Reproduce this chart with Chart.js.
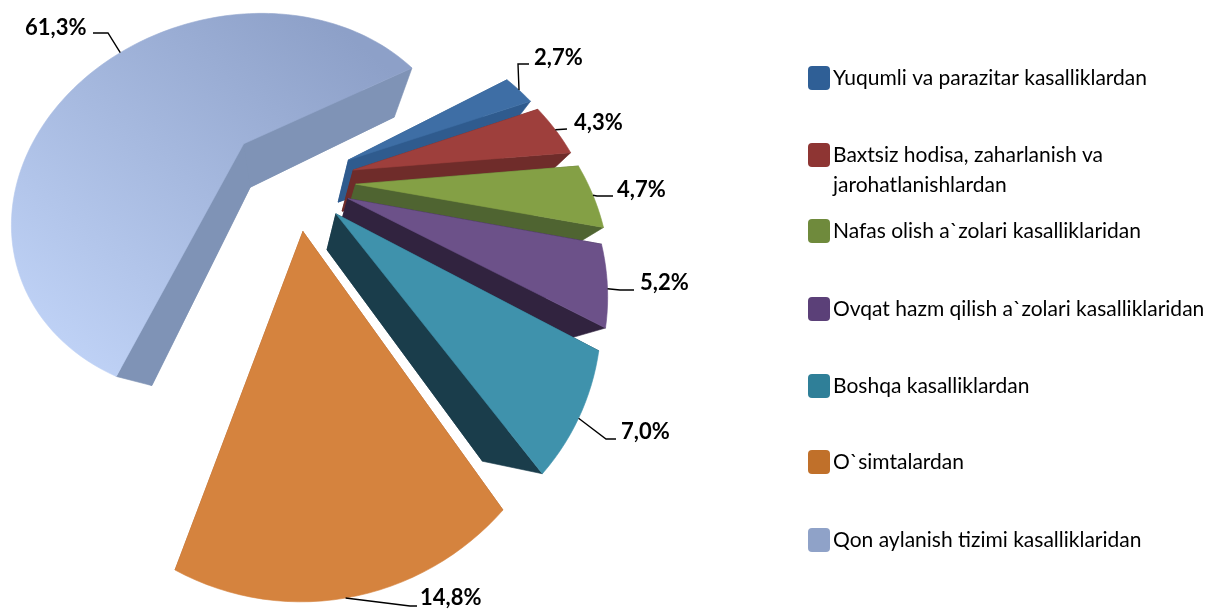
<!DOCTYPE html>
<html>
<head>
<meta charset="utf-8">
<script src="https://cdn.jsdelivr.net/npm/chart.js@4"></script>
<style>
html, body { margin: 0; padding: 0; background: #fff; }
canvas { display: block; }
</style>
</head>
<body>
<canvas id="pieChart" width="1217" height="610"></canvas>
<script>
const categories = [
    'Yuqumli va parazitar kasalliklardan',
    ['Baxtsiz hodisa, zaharlanish va', 'jarohatlanishlardan'],
    'Nafas olish a`zolari kasalliklaridan',
    'Ovqat hazm qilish a`zolari kasalliklaridan',
    'Boshqa kasalliklardan',
    'O`simtalardan',
    'Qon aylanish tizimi kasalliklaridan'
];
const values = [2.7, 4.3, 4.7, 5.2, 7.0, 14.8, 61.3];
const sliceOffsets = [68, 68, 68, 62, 60, 62, 85];
const topColors = ['#3E6EA5', '#9E3F3C', '#84A045', '#6C5189', '#3F92AC', '#D5833E', '#A3B5DA'];
const wallColors = ['#2F5B8E', '#6F2C2A', '#4F6431', '#31233F', '#1A3D4B', '#A8602A', '#7F93B6'];
const legendColors = ['#2F5F96', '#8E3533', '#6F8A3C', '#5B4078', '#2F7F98', '#C0702A', '#8FA2C8'];

// where the label text sits and how its leader line runs
const labelBoxes = [[534, 58], [574, 123], [617, 190], [640, 283], [621, 432], [420, 598], [25, 28]];
const leaderLines = [
    [[518, 64], [529, 64]],
    [[567, 129]],
    [[597, 196], [613, 196]],
    [[620, 290], [634, 290]],
    [[606, 439], [616, 439]],
    [[410, 606], [417, 606]],
    [[108, 33], [93, 33]]
];
const legendRows = [78, 155, 231, 309, 386, 462, 540];

// tilt of the pie: rim points of the two big slices and where the camera puts them
const rotationDeg = 65;
const vanish = [285, 420];
const depth = 0.2;

function rimPoint(index, frac) {
    const total = values.reduce((a, b) => a + b, 0);
    let from = (rotationDeg - 90) * Math.PI / 180;
    for (let i = 0; i < index; i++) from += values[i] / total * 2 * Math.PI;
    const sweep = values[index] / total * 2 * Math.PI;
    const mid = from + sweep / 2, a = from + sweep * frac;
    const off = sliceOffsets[index] / ((610 - Math.max(...sliceOffsets)) / 2);
    return [Math.cos(mid) * off + Math.cos(a), Math.sin(mid) * off + Math.sin(a)];
}
const planePts = [rimPoint(6, 0.5), rimPoint(6, 1), rimPoint(5, 0), rimPoint(5, 1)];
const imagePts = [[118, 54], [412, 68], [503, 510], [175, 570]];

function solveHomography(src, dst) {
    const m = [];
    src.forEach((s, i) => {
        const [x, y] = s, [u, v] = dst[i];
        m.push([x, y, 1, 0, 0, 0, -u * x, -u * y, u]);
        m.push([0, 0, 0, x, y, 1, -v * x, -v * y, v]);
    });
    for (let c = 0; c < 8; c++) {
        let p = c;
        for (let r = c + 1; r < 8; r++) if (Math.abs(m[r][c]) > Math.abs(m[p][c])) p = r;
        [m[c], m[p]] = [m[p], m[c]];
        for (let r = 0; r < 8; r++) {
            if (r === c) continue;
            const f = m[r][c] / m[c][c];
            for (let k = c; k < 9; k++) m[r][k] -= f * m[c][k];
        }
    }
    return m.map((row, i) => row[8] / row[i]);
}
const H = solveHomography(planePts, imagePts);

function project(x, y, z) {
    const w = H[6] * x + H[7] * y + 1;
    const X = H[0] * x + H[1] * y + H[2];
    const Y = H[3] * x + H[4] * y + H[5];
    return [(X + z * vanish[0]) / (w + z), (Y + z * vanish[1]) / (w + z)];
}

function sliceShape(el) {
    const R = el.outerRadius;
    const mid = (el.startAngle + el.endAngle) / 2;
    const off = el.options.offset / R;
    const ox = Math.cos(mid) * off, oy = Math.sin(mid) * off;
    const n = Math.max(4, Math.ceil((el.endAngle - el.startAngle) / 0.03));
    const rim = [];
    for (let i = 0; i <= n; i++) {
        const a = el.startAngle + (el.endAngle - el.startAngle) * i / n;
        rim.push([ox + Math.cos(a), oy + Math.sin(a)]);
    }
    return { apex: [ox, oy], rim };
}

function fillPoly(ctx, pts, fill) {
    ctx.beginPath();
    pts.forEach((p, i) => i ? ctx.lineTo(p[0], p[1]) : ctx.moveTo(p[0], p[1]));
    ctx.closePath();
    ctx.fillStyle = fill;
    ctx.fill();
    ctx.strokeStyle = fill;
    ctx.lineWidth = 0.6;
    ctx.stroke();
}

const pie3d = {
    id: 'pie3d',
    beforeDatasetsDraw(chart) {
        const ctx = chart.ctx;
        const arcs = chart.getDatasetMeta(0).data;
        const order = [6, 0, 1, 2, 3, 4, 5];
        ctx.save();
        order.forEach(i => {
            const s = sliceShape(arcs[i]);
            const a0 = project(s.apex[0], s.apex[1], 0), a1 = project(s.apex[0], s.apex[1], depth);
            const top = s.rim.map(p => project(p[0], p[1], 0));
            const bot = s.rim.map(p => project(p[0], p[1], depth));
            fillPoly(ctx, [a1, ...bot], wallColors[i]);
            fillPoly(ctx, [a0, top[0], bot[0], a1], wallColors[i]);
            fillPoly(ctx, [a0, top[top.length - 1], bot[bot.length - 1], a1], wallColors[i]);
            let fill = topColors[i];
            if (i === 6) {
                const g = ctx.createLinearGradient(330, 20, 60, 350);
                g.addColorStop(0, '#8DA0C8');
                g.addColorStop(1, '#BFD2F6');
                fill = g;
            }
            fillPoly(ctx, [a0, ...top], fill);
        });
        ctx.restore();
        return false;
    },
    afterDraw(chart) {
        const ctx = chart.ctx;
        const arcs = chart.getDatasetMeta(0).data;
        ctx.save();
        ctx.textBaseline = 'middle';
        ctx.textAlign = 'left';
        values.forEach((v, i) => {
            const s = sliceShape(arcs[i]);
            const p = s.rim[Math.round((s.rim.length - 1) * 0.5)];
            const a = project(p[0], p[1], 0);
            ctx.beginPath();
            ctx.moveTo(a[0], a[1]);
            leaderLines[i].forEach(q => ctx.lineTo(q[0], q[1]));
            ctx.strokeStyle = '#000';
            ctx.lineWidth = 1.4;
            ctx.stroke();
            ctx.fillStyle = '#000';
            ctx.font = 'bold 22px Lato';
            ctx.fillText(v.toFixed(1).replace('.', ',') + '%', labelBoxes[i][0], labelBoxes[i][1]);
        });
        categories.forEach((c, i) => {
            const y = legendRows[i];
            ctx.beginPath();
            ctx.roundRect(808, y - 12, 22, 24, 4);
            ctx.fillStyle = legendColors[i];
            ctx.fill();
            ctx.fillStyle = '#000';
            ctx.font = '21px Lato';
            const lines = Array.isArray(c) ? c : [c];
            lines.forEach((t, k) => ctx.fillText(t, 833, y + k * 30));
        });
        ctx.restore();
    }
};

new Chart(document.getElementById('pieChart'), {
    type: 'pie',
    data: {
        labels: categories,
        datasets: [{
            data: values,
            backgroundColor: topColors,
            offset: sliceOffsets,
            borderWidth: 0,
        }]
    },
    options: {
        responsive: false,
        animation: false,
        rotation: rotationDeg,
        plugins: {
            legend: { display: false },
            tooltip: { enabled: false },
        },
    },
    plugins: [pie3d],
});
</script>
</body>
</html>
